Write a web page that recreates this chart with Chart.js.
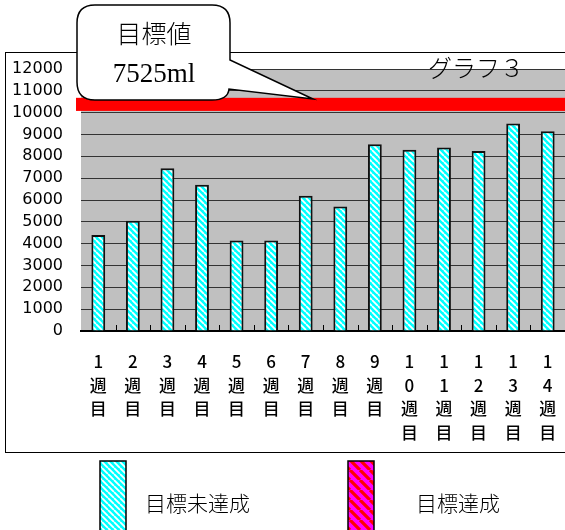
<!DOCTYPE html>
<html>
<head>
<meta charset="utf-8">
<script src="https://cdn.jsdelivr.net/npm/chart.js@4/dist/chart.umd.min.js"></script>
<style>
  html, body { margin: 0; padding: 0; background: #fff; }
  #wrap { width: 565px; height: 530px; position: relative; }
</style>
</head>
<body>
<div id="wrap"><canvas id="chart" width="565" height="530"></canvas></div>
<script>
// Weekly intake (ml) per week
const weeks = ['1', '2', '3', '4', '5', '6', '7', '8', '9', '10', '11', '12', '13', '14'];
const weekLabels = weeks.map(w => [...w.split(''), '週', '目']);
const notReached = [4400, 5050, 7450, 6700, 4150, 4150, 6200, 5700, 8550, 8300, 8400, 8250, 9500, 9150];
const reached = [null, null, null, null, null, null, null, null, null, null, null, null, null, null];
const seriesNames = ['目標未達成', '目標達成'];
const goalBand = [10080, 10680];
const goalText = ['目標値', '7525ml'];
const chartTitle = 'グラフ３';
const yMin = 0, yMax = 12000, yStep = 1000;

const CJK = '"Noto Sans CJK JP", "Noto Sans", sans-serif';

function stripes(bg, fg, size, lw) {
  const c = document.createElement('canvas');
  c.width = c.height = size;
  const g = c.getContext('2d');
  g.fillStyle = bg;
  g.fillRect(0, 0, size, size);
  g.strokeStyle = fg;
  g.lineWidth = lw;
  g.beginPath();
  for (const o of [-size, 0, size]) {
    g.moveTo(o, 0);
    g.lineTo(o + size, size);
  }
  g.stroke();
  return g.createPattern(c, 'repeat');
}

const cyanStripes = stripes('#00ffff', '#ffffff', 6, 1.8);
const magentaStripes = stripes('#ff00ff', '#ff0000', 10, 3.2);

// Frame, plot background, goal band, tick marks, callout and legend
const decor = {
  id: 'decor',
  beforeDraw(chart) {
    const { ctx, chartArea: a } = chart;
    ctx.save();
    ctx.fillStyle = '#fff';
    ctx.fillRect(0, 0, chart.width, chart.height);
    ctx.strokeStyle = '#000';
    ctx.lineWidth = 1;
    ctx.strokeRect(5.5, 52.5, 700, 400);
    ctx.fillStyle = '#c0c0c0';
    ctx.fillRect(a.left, a.top, a.right - a.left, a.bottom - a.top);
    ctx.restore();
  },
  beforeDatasetsDraw(chart) {
    const { ctx, chartArea: a, scales: { x, y } } = chart;
    ctx.save();
    // goal band
    const y1 = y.getPixelForValue(goalBand[1]);
    const y0 = y.getPixelForValue(goalBand[0]);
    ctx.fillStyle = '#ff0000';
    ctx.fillRect(a.left - 5, y1, a.right - a.left + 10, y0 - y1);
    // short tick marks between categories
    ctx.strokeStyle = '#000';
    ctx.lineWidth = 1;
    ctx.beginPath();
    for (let i = 1; i < weeks.length; i++) {
      const px = Math.round((x.getPixelForValue(i - 1) + x.getPixelForValue(i)) / 2) + 0.5;
      ctx.moveTo(px, a.bottom - 6);
      ctx.lineTo(px, a.bottom);
    }
    ctx.stroke();
    ctx.restore();
  },
  afterDraw(chart) {
    const { ctx } = chart;
    ctx.save();
    // title
    ctx.fillStyle = '#000';
    ctx.font = '300 24px ' + CJK;
    ctx.textAlign = 'left';
    ctx.textBaseline = 'middle';
    ctx.fillText(chartTitle, 428, 68);

    // callout
    const L = 77, T = 5, R = 230, B = 100, r = 18;
    ctx.beginPath();
    ctx.moveTo(L + r, T);
    ctx.lineTo(R - r, T);
    ctx.quadraticCurveTo(R, T, R, T + r);
    ctx.lineTo(R, 60);
    ctx.lineTo(313, 99);
    ctx.lineTo(R - 1, 89);
    ctx.quadraticCurveTo(R - 2, B, R - r, B);
    ctx.lineTo(L + r, B);
    ctx.quadraticCurveTo(L, B, L, B - r);
    ctx.lineTo(L, T + r);
    ctx.quadraticCurveTo(L, T, L + r, T);
    ctx.closePath();
    ctx.fillStyle = '#fff';
    ctx.fill();
    ctx.strokeStyle = '#000';
    ctx.lineWidth = 1.5;
    ctx.stroke();
    ctx.fillStyle = '#000';
    ctx.textAlign = 'center';
    ctx.font = '300 25px ' + CJK;
    ctx.fillText(goalText[0], 154, 33);
    ctx.font = '27px "Liberation Serif", "DejaVu Serif", serif';
    ctx.fillText(goalText[1], 154, 75);

    // legend
    const items = [{ sx: 100, tx: 145 }, { sx: 348, tx: 416 }];
    chart.data.datasets.forEach((ds, i) => {
      const it = items[i];
      ctx.fillStyle = ds.backgroundColor;
      ctx.fillRect(it.sx, 461, 26, 80);
      ctx.strokeStyle = '#000';
      ctx.lineWidth = 1.5;
      ctx.strokeRect(it.sx, 461, 26, 80);
      ctx.fillStyle = '#000';
      ctx.textAlign = 'left';
      ctx.textBaseline = 'middle';
      ctx.font = '300 21px ' + CJK;
      ctx.fillText(ds.label, it.tx, 503);
    });
    ctx.restore();
  }
};

new Chart(document.getElementById('chart'), {
  type: 'bar',
  data: {
    labels: weekLabels,
    datasets: [
      {
        label: seriesNames[0],
        data: notReached,
        backgroundColor: cyanStripes,
        borderColor: '#111',
        borderWidth: 2,
        barPercentage: 0.4,
        categoryPercentage: 1,
        grouped: false
      },
      {
        label: seriesNames[1],
        data: reached,
        backgroundColor: magentaStripes,
        borderColor: '#111',
        borderWidth: 2,
        barPercentage: 0.4,
        categoryPercentage: 1,
        grouped: false
      }
    ]
  },
  options: {
    responsive: false,
    animation: false,
    layout: { padding: { top: 69, left: 0, right: 0, bottom: 0 } },
    plugins: { legend: { display: false }, tooltip: { enabled: false } },
    scales: {
      x: {
        offset: true,
        grid: { display: false, drawTicks: false },
        border: { display: true, color: '#000', width: 2 },
        ticks: {
          color: '#000',
          font: { family: CJK, size: 17, weight: '500', lineHeight: 1.38 },
          padding: 19,
          maxRotation: 0,
          autoSkip: false
        },
        afterFit(s) { s.height = 199; s.paddingLeft = 0; s.paddingRight = 0; }
      },
      y: {
        min: yMin,
        max: yMax,
        ticks: {
          stepSize: yStep,
          autoSkip: false,
          callback: v => String(v),
          color: '#000',
          font: { family: '"DejaVu Sans", sans-serif', size: 16 },
          padding: 18
        },
        grid: { color: '#333', lineWidth: 1, drawTicks: false },
        border: { display: false },
        afterFit(s) { s.width = 81; s.paddingTop = 0; s.paddingBottom = 0; }
      }
    }
  },
  plugins: [decor]
});
</script>
</body>
</html>
